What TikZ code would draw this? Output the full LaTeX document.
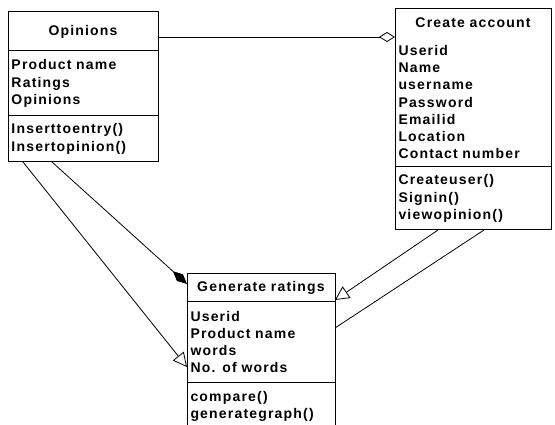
\documentclass[tikz,border=0pt]{standalone}
\usepackage{fontspec}
\setmainfont{Liberation Sans}[LetterSpace=8.5]
\usetikzlibrary{positioning,arrows.meta}

\tikzset{
    classpart/.style={draw, line width=1pt, outer sep=0pt, inner xsep=3.5pt,
        inner ysep=0pt, align=left, anchor=north west},
    classhead/.style={classpart, align=center},
    link/.style={line width=0.8pt},
}

\begin{document}
\begin{tikzpicture}[
    x=1pt, y=-1pt,
    font=\bfseries\fontsize{14}{17.3}\selectfont
]

\clip (0,0) rectangle (555,425);

%% Trieda Opinions
\node[classhead, text width=143pt, minimum height=39pt] (opT) at (8,12) {Opinions};
\node[classpart, text width=143pt, minimum height=65pt, below=0pt of opT] (opA)
    {Product name\\Ratings\\Opinions};
\node[classpart, text width=143pt, minimum height=46pt, below=0pt of opA] (opM)
    {Inserttoentry()\\Insertopinion()};

%% Trieda Create account (hlavička bez deliacej čiary)
\node[classhead, draw=none, text width=149pt, minimum height=28pt] (caT) at (395,9) {Create account};
\node[classpart, draw=none, text width=149pt, minimum height=130pt, below=0pt of caT] (caA)
    {Userid\\Name\\username\\Password\\Emailid\\Location\\Contact number};
\node[classpart, text width=149pt, minimum height=63pt, below=0pt of caA] (caM)
    {Createuser()\\Signin()\\viewopinion()};
\draw[line width=1pt] (caT.north west) rectangle (caA.south east);

%% Trieda Generate ratings (spodok orezaný)
\node[classhead, text width=141pt, minimum height=28pt] (genT) at (187,274) {Generate ratings};
\node[classpart, text width=141pt, minimum height=80pt, below=0pt of genT] (genA)
    {Userid\\Product name\\words\\No. of words};
\node[classpart, text width=141pt, inner ysep=9pt, below=0pt of genA] (genM)
    {compare()\\generategraph()};

%% Spojenia
\draw[link, -{Diamond[open, length=16pt, width=10pt]}]
    (caT.south west -| opT.east) -- (caT.south west);
\draw[link, -{Triangle[open, length=14pt, width=14pt]}]
    ([xshift=15pt]opM.south west) -- ([yshift=15pt]genA.south west);
\draw[link, -{Diamond[length=19pt, width=9pt]}]
    ([xshift=44pt]opM.south west) -- ([yshift=-10pt]genT.north west);
\draw[link, -{Triangle[open, length=14pt, width=14pt]}]
    ([xshift=43pt]caM.south west) -- ([yshift=2pt]genT.south east);
\draw[link]
    ([xshift=89pt]caM.south west) -- ([yshift=-26pt]genA.north east);

\end{tikzpicture}
\end{document}
